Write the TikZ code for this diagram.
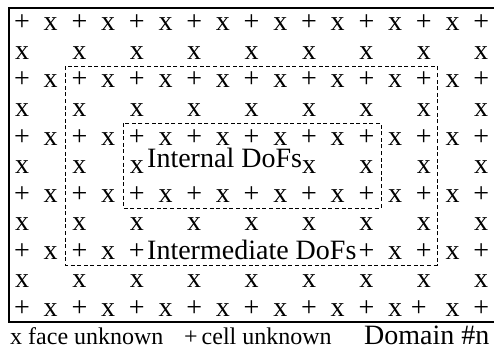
\documentclass[tikz,border=0pt]{standalone}
\usepackage{fontspec}
\setmainfont{Liberation Serif}
\begin{document}
\begin{tikzpicture}[x=1pt,y=-1pt,
  glyph/.style={anchor=base,inner sep=0pt,font=\fontsize{28}{28}\selectfont},
  lbl/.style={anchor=base west,inner sep=0pt,font=\fontsize{28}{28}\selectfont},
  legend/.style={anchor=base west,inner sep=0pt,font=\fontsize{24}{24}\selectfont},
  region/.style={draw,dash pattern=on 4pt off 2.6pt,line width=0.9pt},
  frame/.style={line width=1.3pt}]
\useasboundingbox (0,0) rectangle (494,350);
% frame (open on the right)
\draw[frame] (494,8) -- (9,8) -- (9,322) -- (494,322);
% full + rows
\foreach \r in {0,2,4,6} {
  \foreach \c in {0,2,...,16} \node[glyph] (p-\r-\c) at ({22+28.7*\c},{31+28.5*\r}) {+};
  \foreach \c in {1,3,...,15} \node[glyph] (x-\r-\c) at ({22+28.7*\c},{31+28.5*\r}) {x};
}
% last row
\foreach \c in {0,2,...,12,16} \node[glyph] (p-10-\c) at ({22+28.7*\c},{31+28.5*10}) {+};
\node[glyph] (p-10-14) at ({22+28.7*14-5},{31+28.5*10}) {+};
\foreach \c in {1,3,...,15} \node[glyph] (x-10-\c) at ({22+28.7*\c},{31+28.5*10}) {x};
% row 8 with label
\foreach \c in {0,2,4,12,14,16} \node[glyph] (p-8-\c) at ({22+28.7*\c},{31+28.5*8}) {+};
\foreach \c in {1,3,13,15} \node[glyph] (x-8-\c) at ({22+28.7*\c},{31+28.5*8}) {x};
% x rows
\foreach \r in {1,3,7,9} {
  \foreach \c in {0,2,...,16} \node[glyph] (x-\r-\c) at ({22+28.7*\c},{31+28.5*\r}) {x};
}
\foreach \c in {0,2,4,10,12,14,16} \node[glyph] (x-5-\c) at ({22+28.7*\c},{31+28.5*5}) {x};
% labels
\node[lbl] (internal) at (147,167) {Internal DoFs};
\node[lbl] (intermediate) at (147,259) {Intermediate DoFs};
% dashed regions
\draw[region] (65,66) rectangle (437,265);
\draw[region] (123,123) rectangle (381,208);
% legend
\node[legend] (legx) at (10,344) {x face unknown};
\node[legend] (legp) at (184,344) {+\,cell unknown};
\node[lbl] (domain) at (364,344) {Domain \#n};
\end{tikzpicture}
\end{document}
